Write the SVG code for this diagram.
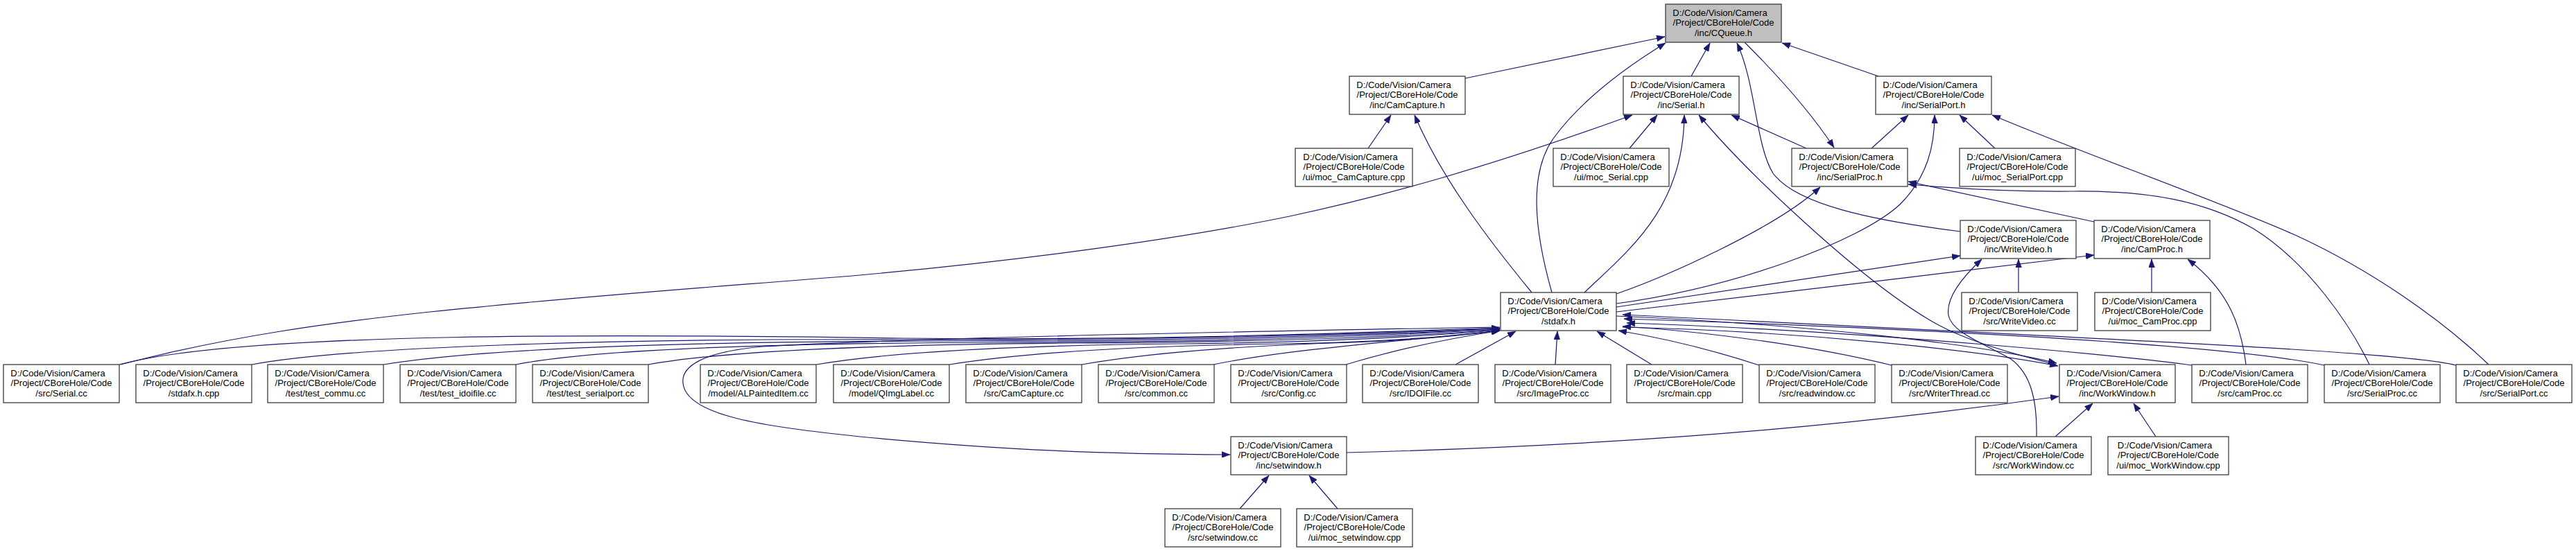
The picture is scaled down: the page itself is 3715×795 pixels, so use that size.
<svg xmlns="http://www.w3.org/2000/svg" width="3715" height="795" viewBox="0 0 3715 795">
<style>
.node rect{fill:#ffffff;stroke:#3c3c3c;stroke-width:1.3}
.node.root rect{fill:#bfbfbf}
.node text{font-family:"Liberation Sans",Arial,sans-serif;font-size:13px;fill:#000;text-anchor:middle}
.edges path{fill:none;stroke:#191970;stroke-width:1.2;marker-end:url(#ah)}
</style>
<defs>
<marker id="ah" markerUnits="userSpaceOnUse" markerWidth="12" markerHeight="9" refX="12" refY="4.5" orient="auto">
<path d="M0,0 L12,4.5 L0,9 z" fill="#191970" stroke="#191970" stroke-width="0.5"/>
</marker>
</defs>
<rect width="3715" height="795" fill="#ffffff"/>
<g class="edges">
<path d="M2113,113 L2401,53"/>
<path d="M2238,422 C2212,330 2205,250 2240,200 C2280,145 2340,100 2402,62"/>
<path d="M2439,110 L2466,62"/>
<path d="M2516,61 C2565,110 2610,160 2645,213"/>
<path d="M2827,334 C2700,318 2590,295 2557,250 C2532,210 2532,120 2505,62"/>
<path d="M2709,110 L2570,62"/>
<path d="M1973,214 L2006,166"/>
<path d="M2209,422 C2150,350 2080,260 2040,166"/>
<path d="M174,526 C330,485 480,465 620,450 C860,425 1060,412 1240,397 C1480,375 1700,345 1860,312 C2000,282 2150,240 2354,166"/>
<path d="M2350,214 L2390,166"/>
<path d="M2285,422 C2350,360 2428,300 2429,166"/>
<path d="M2965,526 C2880,505 2820,485 2780,460 C2680,400 2520,250 2450,166"/>
<path d="M2605,214 L2497,166"/>
<path d="M2699,214 L2752,166"/>
<path d="M2877,214 L2826,166"/>
<path d="M2331,438 C2500,415 2680,350 2740,295 C2780,255 2790,210 2790,166"/>
<path d="M2331,424 C2400,400 2560,330 2625,270"/>
<path d="M3020,320 L2752,262"/>
<path d="M3417,526 C3390,470 3330,380 3250,330 C3180,290 3100,275 2990,276 C2900,277 2820,272 2752,266"/>
<path d="M3589,526 C3520,460 3420,390 3312,340 C3200,290 3000,220 2873,166"/>
<path d="M2331,443 C2480,420 2650,395 2827,369"/>
<path d="M2331,450 C2500,430 2800,395 3020,368"/>
<path d="M2937,630 C2938,580 2930,540 2900,518 C2860,495 2815,480 2810,455 C2806,430 2830,400 2858,374"/>
<path d="M2911,422 L2911,374"/>
<path d="M3103,422 L3103,374"/>
<path d="M3239,526 C3232,470 3215,420 3155,374"/>
<path d="M2331,456 C2600,468 2850,495 2966,524"/>
<path d="M2340,472 C2600,478 2850,505 2968,528"/>
<path d="M3161,527 C3080,515 2700,478 2346,466"/>
<path d="M3352,527 C3250,505 2950,480 2342,460"/>
<path d="M3542,527 C3470,508 3100,492 2340,454"/>
<path d="M2728,527 C2620,500 2460,478 2340,471"/>
<path d="M2537,527 C2470,505 2400,488 2334,477"/>
<path d="M2382,526 L2303,478"/>
<path d="M2243,526 L2246,478"/>
<path d="M2099,526 L2186,478"/>
<path d="M1941,526 C2010,505 2080,490 2163,477"/>
<path d="M1750,526 C1850,505 1990,495 2163,477"/>
<path d="M1560,526 C1680,505 1850,497 1950,494 C2040,491 2110,484 2163,477"/>
<path d="M1369,526 C1500,505 1700,498 1850,496 C1980,494 2080,487 2163,477"/>
<path d="M1177,526 C1300,505 1500,498 1700,496 C1900,494 2050,486 2163,476"/>
<path d="M935,526 C1050,505 1300,497 1550,495 C1850,493 2020,486 2163,476"/>
<path d="M744,526 C850,505 1100,495 1450,494 C1800,493 2000,484 2163,475"/>
<path d="M553,526 C700,502 1000,492 1400,492 C1750,492 2000,482 2163,475"/>
<path d="M363,526 C500,500 900,488 1300,490 C1700,492 2000,480 2163,474"/>
<path d="M172,526 C350,478 900,482 1300,488 C1700,492 2000,478 2163,473"/>
<path d="M2163,472 C1800,478 1300,488 1100,500 C1010,508 982,530 985,553 C990,600 1100,615 1240,630 C1450,650 1600,655 1774,656"/>
<path d="M1942,653 C2250,645 2600,625 2969,572"/>
<path d="M1788,734 L1830,686"/>
<path d="M1929,734 L1888,686"/>
<path d="M2964,630 L3018,582"/>
<path d="M3109,630 L3077,582"/>
</g>
<g id="n_cqueue" class="node root"><rect x="2402" y="6" width="167" height="55"/><text><tspan x="2480.5" y="22.5">D:/Code/Vision/Camera</tspan><tspan x="2485.5" y="37">/Project/CBoreHole/Code</tspan><tspan x="2485.5" y="51.5">/inc/CQueue.h</tspan></text></g>
<g id="n_camcapture_h" class="node"><rect x="1946" y="110" width="167" height="55"/><text><tspan x="2024.5" y="126.5">D:/Code/Vision/Camera</tspan><tspan x="2029.5" y="141">/Project/CBoreHole/Code</tspan><tspan x="2029.5" y="155.5">/inc/CamCapture.h</tspan></text></g>
<g id="n_serial_h" class="node"><rect x="2341" y="110" width="167" height="55"/><text><tspan x="2419.5" y="126.5">D:/Code/Vision/Camera</tspan><tspan x="2424.5" y="141">/Project/CBoreHole/Code</tspan><tspan x="2424.5" y="155.5">/inc/Serial.h</tspan></text></g>
<g id="n_serialport_h" class="node"><rect x="2705" y="110" width="167" height="55"/><text><tspan x="2783.5" y="126.5">D:/Code/Vision/Camera</tspan><tspan x="2788.5" y="141">/Project/CBoreHole/Code</tspan><tspan x="2788.5" y="155.5">/inc/SerialPort.h</tspan></text></g>
<g id="n_moc_camcapture" class="node"><rect x="1868" y="214" width="169" height="55"/><text><tspan x="1947.5" y="230.5">D:/Code/Vision/Camera</tspan><tspan x="1952.5" y="245">/Project/CBoreHole/Code</tspan><tspan x="1952.5" y="259.5">/ui/moc_CamCapture.cpp</tspan></text></g>
<g id="n_moc_serial" class="node"><rect x="2240" y="214" width="167" height="55"/><text><tspan x="2318.5" y="230.5">D:/Code/Vision/Camera</tspan><tspan x="2323.5" y="245">/Project/CBoreHole/Code</tspan><tspan x="2323.5" y="259.5">/ui/moc_Serial.cpp</tspan></text></g>
<g id="n_serialproc_h" class="node"><rect x="2584" y="214" width="167" height="55"/><text><tspan x="2662.5" y="230.5">D:/Code/Vision/Camera</tspan><tspan x="2667.5" y="245">/Project/CBoreHole/Code</tspan><tspan x="2667.5" y="259.5">/inc/SerialProc.h</tspan></text></g>
<g id="n_moc_serialport" class="node"><rect x="2826" y="214" width="167" height="55"/><text><tspan x="2904.5" y="230.5">D:/Code/Vision/Camera</tspan><tspan x="2909.5" y="245">/Project/CBoreHole/Code</tspan><tspan x="2909.5" y="259.5">/ui/moc_SerialPort.cpp</tspan></text></g>
<g id="n_writevideo_h" class="node"><rect x="2827" y="318" width="167" height="55"/><text><tspan x="2905.5" y="334.5">D:/Code/Vision/Camera</tspan><tspan x="2910.5" y="349">/Project/CBoreHole/Code</tspan><tspan x="2910.5" y="363.5">/inc/WriteVideo.h</tspan></text></g>
<g id="n_camproc_h" class="node"><rect x="3020" y="318" width="167" height="55"/><text><tspan x="3098.5" y="334.5">D:/Code/Vision/Camera</tspan><tspan x="3103.5" y="349">/Project/CBoreHole/Code</tspan><tspan x="3103.5" y="363.5">/inc/CamProc.h</tspan></text></g>
<g id="n_stdafx_h" class="node"><rect x="2164" y="422" width="167" height="55"/><text><tspan x="2242.5" y="438.5">D:/Code/Vision/Camera</tspan><tspan x="2247.5" y="453">/Project/CBoreHole/Code</tspan><tspan x="2247.5" y="467.5">/stdafx.h</tspan></text></g>
<g id="n_writevideo_cc" class="node"><rect x="2829" y="422" width="167" height="55"/><text><tspan x="2907.5" y="438.5">D:/Code/Vision/Camera</tspan><tspan x="2912.5" y="453">/Project/CBoreHole/Code</tspan><tspan x="2912.5" y="467.5">/src/WriteVideo.cc</tspan></text></g>
<g id="n_moc_camproc" class="node"><rect x="3021" y="422" width="167" height="55"/><text><tspan x="3099.5" y="438.5">D:/Code/Vision/Camera</tspan><tspan x="3104.5" y="453">/Project/CBoreHole/Code</tspan><tspan x="3104.5" y="467.5">/ui/moc_CamProc.cpp</tspan></text></g>
<g id="n_serial_cc" class="node"><rect x="5" y="526" width="167" height="55"/><text><tspan x="83.5" y="542.5">D:/Code/Vision/Camera</tspan><tspan x="88.5" y="557">/Project/CBoreHole/Code</tspan><tspan x="88.5" y="571.5">/src/Serial.cc</tspan></text></g>
<g id="n_stdafx_cpp" class="node"><rect x="196" y="526" width="167" height="55"/><text><tspan x="274.5" y="542.5">D:/Code/Vision/Camera</tspan><tspan x="279.5" y="557">/Project/CBoreHole/Code</tspan><tspan x="279.5" y="571.5">/stdafx.h.cpp</tspan></text></g>
<g id="n_test_commu" class="node"><rect x="386" y="526" width="167" height="55"/><text><tspan x="464.5" y="542.5">D:/Code/Vision/Camera</tspan><tspan x="469.5" y="557">/Project/CBoreHole/Code</tspan><tspan x="469.5" y="571.5">/test/test_commu.cc</tspan></text></g>
<g id="n_test_idoifile" class="node"><rect x="577" y="526" width="167" height="55"/><text><tspan x="655.5" y="542.5">D:/Code/Vision/Camera</tspan><tspan x="660.5" y="557">/Project/CBoreHole/Code</tspan><tspan x="660.5" y="571.5">/test/test_idoifile.cc</tspan></text></g>
<g id="n_test_serialport" class="node"><rect x="768" y="526" width="167" height="55"/><text><tspan x="846.5" y="542.5">D:/Code/Vision/Camera</tspan><tspan x="851.5" y="557">/Project/CBoreHole/Code</tspan><tspan x="851.5" y="571.5">/test/test_serialport.cc</tspan></text></g>
<g id="n_alpainteditem" class="node"><rect x="1010" y="526" width="167" height="55"/><text><tspan x="1088.5" y="542.5">D:/Code/Vision/Camera</tspan><tspan x="1093.5" y="557">/Project/CBoreHole/Code</tspan><tspan x="1093.5" y="571.5">/model/ALPaintedItem.cc</tspan></text></g>
<g id="n_qimglabel" class="node"><rect x="1202" y="526" width="167" height="55"/><text><tspan x="1280.5" y="542.5">D:/Code/Vision/Camera</tspan><tspan x="1285.5" y="557">/Project/CBoreHole/Code</tspan><tspan x="1285.5" y="571.5">/model/QImgLabel.cc</tspan></text></g>
<g id="n_camcapture_cc" class="node"><rect x="1393" y="526" width="167" height="55"/><text><tspan x="1471.5" y="542.5">D:/Code/Vision/Camera</tspan><tspan x="1476.5" y="557">/Project/CBoreHole/Code</tspan><tspan x="1476.5" y="571.5">/src/CamCapture.cc</tspan></text></g>
<g id="n_common_cc" class="node"><rect x="1584" y="526" width="167" height="55"/><text><tspan x="1662.5" y="542.5">D:/Code/Vision/Camera</tspan><tspan x="1667.5" y="557">/Project/CBoreHole/Code</tspan><tspan x="1667.5" y="571.5">/src/common.cc</tspan></text></g>
<g id="n_config_cc" class="node"><rect x="1775" y="526" width="167" height="55"/><text><tspan x="1853.5" y="542.5">D:/Code/Vision/Camera</tspan><tspan x="1858.5" y="557">/Project/CBoreHole/Code</tspan><tspan x="1858.5" y="571.5">/src/Config.cc</tspan></text></g>
<g id="n_idoifile_cc" class="node"><rect x="1965" y="526" width="167" height="55"/><text><tspan x="2043.5" y="542.5">D:/Code/Vision/Camera</tspan><tspan x="2048.5" y="557">/Project/CBoreHole/Code</tspan><tspan x="2048.5" y="571.5">/src/IDOIFile.cc</tspan></text></g>
<g id="n_imageproc_cc" class="node"><rect x="2156" y="526" width="167" height="55"/><text><tspan x="2234.5" y="542.5">D:/Code/Vision/Camera</tspan><tspan x="2239.5" y="557">/Project/CBoreHole/Code</tspan><tspan x="2239.5" y="571.5">/src/ImageProc.cc</tspan></text></g>
<g id="n_main_cpp" class="node"><rect x="2346" y="526" width="167" height="55"/><text><tspan x="2424.5" y="542.5">D:/Code/Vision/Camera</tspan><tspan x="2429.5" y="557">/Project/CBoreHole/Code</tspan><tspan x="2429.5" y="571.5">/src/main.cpp</tspan></text></g>
<g id="n_readwindow_cc" class="node"><rect x="2537" y="526" width="167" height="55"/><text><tspan x="2615.5" y="542.5">D:/Code/Vision/Camera</tspan><tspan x="2620.5" y="557">/Project/CBoreHole/Code</tspan><tspan x="2620.5" y="571.5">/src/readwindow.cc</tspan></text></g>
<g id="n_writerthread_cc" class="node"><rect x="2728" y="526" width="167" height="55"/><text><tspan x="2806.5" y="542.5">D:/Code/Vision/Camera</tspan><tspan x="2811.5" y="557">/Project/CBoreHole/Code</tspan><tspan x="2811.5" y="571.5">/src/WriterThread.cc</tspan></text></g>
<g id="n_workwindow_h" class="node"><rect x="2970" y="526" width="167" height="55"/><text><tspan x="3048.5" y="542.5">D:/Code/Vision/Camera</tspan><tspan x="3053.5" y="557">/Project/CBoreHole/Code</tspan><tspan x="3053.5" y="571.5">/inc/WorkWindow.h</tspan></text></g>
<g id="n_camproc_cc" class="node"><rect x="3161" y="526" width="167" height="55"/><text><tspan x="3239.5" y="542.5">D:/Code/Vision/Camera</tspan><tspan x="3244.5" y="557">/Project/CBoreHole/Code</tspan><tspan x="3244.5" y="571.5">/src/camProc.cc</tspan></text></g>
<g id="n_serialproc_cc" class="node"><rect x="3352" y="526" width="167" height="55"/><text><tspan x="3430.5" y="542.5">D:/Code/Vision/Camera</tspan><tspan x="3435.5" y="557">/Project/CBoreHole/Code</tspan><tspan x="3435.5" y="571.5">/src/SerialProc.cc</tspan></text></g>
<g id="n_serialport_cc" class="node"><rect x="3542" y="526" width="167" height="55"/><text><tspan x="3620.5" y="542.5">D:/Code/Vision/Camera</tspan><tspan x="3625.5" y="557">/Project/CBoreHole/Code</tspan><tspan x="3625.5" y="571.5">/src/SerialPort.cc</tspan></text></g>
<g id="n_setwindow_h" class="node"><rect x="1775" y="630" width="167" height="55"/><text><tspan x="1853.5" y="646.5">D:/Code/Vision/Camera</tspan><tspan x="1858.5" y="661">/Project/CBoreHole/Code</tspan><tspan x="1858.5" y="675.5">/inc/setwindow.h</tspan></text></g>
<g id="n_workwindow_cc" class="node"><rect x="2849" y="630" width="167" height="55"/><text><tspan x="2927.5" y="646.5">D:/Code/Vision/Camera</tspan><tspan x="2932.5" y="661">/Project/CBoreHole/Code</tspan><tspan x="2932.5" y="675.5">/src/WorkWindow.cc</tspan></text></g>
<g id="n_moc_workwindow" class="node"><rect x="3040" y="630" width="174" height="55"/><text><tspan x="3122" y="646.5">D:/Code/Vision/Camera</tspan><tspan x="3127" y="661">/Project/CBoreHole/Code</tspan><tspan x="3127" y="675.5">/ui/moc_WorkWindow.cpp</tspan></text></g>
<g id="n_setwindow_cc" class="node"><rect x="1680" y="734" width="167" height="55"/><text><tspan x="1758.5" y="750.5">D:/Code/Vision/Camera</tspan><tspan x="1763.5" y="765">/Project/CBoreHole/Code</tspan><tspan x="1763.5" y="779.5">/src/setwindow.cc</tspan></text></g>
<g id="n_moc_setwindow" class="node"><rect x="1870" y="734" width="167" height="55"/><text><tspan x="1948.5" y="750.5">D:/Code/Vision/Camera</tspan><tspan x="1953.5" y="765">/Project/CBoreHole/Code</tspan><tspan x="1953.5" y="779.5">/ui/moc_setwindow.cpp</tspan></text></g>
</svg>
